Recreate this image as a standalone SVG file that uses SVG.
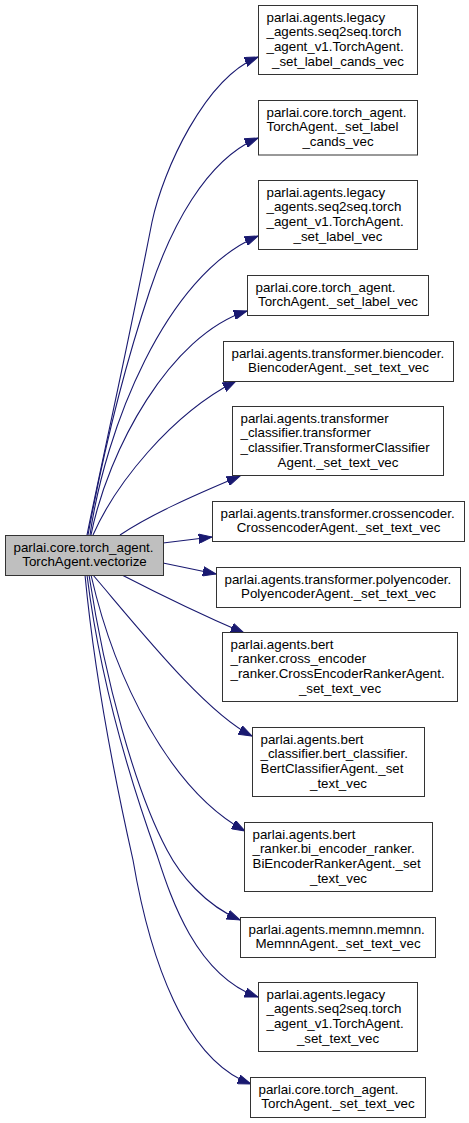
<svg xmlns="http://www.w3.org/2000/svg" width="469" height="1123" viewBox="0 0 469 1123">
<style>
.n rect{fill:#fff;stroke:#333;stroke-width:1}
.n.root rect{fill:#bfbfbf}
.n text{font-family:"Liberation Sans",Arial,Helvetica,sans-serif;font-size:13.33px;fill:#000}
.c{text-anchor:middle}
.e path{fill:none;stroke:#191970;stroke-width:1.1;marker-end:url(#arr)}
</style>
<defs>
<marker id="arr" markerWidth="14" markerHeight="10" refX="13.3" refY="5" orient="auto" markerUnits="userSpaceOnUse">
<path d="M0,0.3 L13.3,5 L0,9.7 z" fill="#191970" stroke="#191970" stroke-width="1"/>
</marker>
</defs>
<rect width="469" height="1123" fill="#fff"/>
<g id="edges" class="e">
<path d="M87,535 C100,470 125,360 152,222 C163,170 205,78 258,57"/>
<path d="M88,535 C100,470 120,380 150,290 C170,230 205,160 258,138"/>
<path d="M90,535 C105,430 165,275 258,236"/>
<path d="M91,535 C108,450 170,335 247,311"/>
<path d="M93,535 C115,485 170,415 236,381"/>
<path d="M120,535 C150,515 190,497 240,476"/>
<path d="M163,543 L212,537"/>
<path d="M163,563 L216,574"/>
<path d="M122,575 C155,592 195,612 244,633"/>
<path d="M93,575 C140,630 205,712 252,736"/>
<path d="M91,575 C115,680 170,790 245,831"/>
<path d="M89,575 C105,680 135,790 167,850 C180,875 205,905 240,920"/>
<path d="M87,575 C100,680 130,780 157,855 C170,895 195,975 258,997"/>
<path d="M85,575 C95,680 115,780 133,860 C150,960 185,1060 251,1084"/>
</g>
<g id="root" class="n root"><rect x="5.5" y="535.5" width="158" height="40"/><text x="13.5" y="551.5">parlai.core.torch_agent.</text><text class="c" x="84.5" y="566.2">TorchAgent.vectorize</text></g>
<g id="n1" class="n"><rect x="258.5" y="5.5" width="159" height="69"/><text x="266.5" y="21.5">parlai.agents.legacy</text><text x="266.5" y="36.2">_agents.seq2seq.torch</text><text x="266.5" y="50.8">_agent_v1.TorchAgent.</text><text class="c" x="338" y="65.5">_set_label_cands_vec</text></g>
<g id="n2" class="n"><rect x="258.5" y="100.5" width="159" height="54.5"/><text x="266.5" y="116.5">parlai.core.torch_agent.</text><text x="266.5" y="131.2">TorchAgent._set_label</text><text class="c" x="338" y="145.8">_cands_vec</text></g>
<g id="n3" class="n"><rect x="258.5" y="180.5" width="159" height="69"/><text x="266.5" y="196.5">parlai.agents.legacy</text><text x="266.5" y="211.2">_agents.seq2seq.torch</text><text x="266.5" y="225.8">_agent_v1.TorchAgent.</text><text class="c" x="338" y="240.5">_set_label_vec</text></g>
<g id="n4" class="n"><rect x="247.5" y="275.5" width="181" height="40"/><text x="255.5" y="291.5">parlai.core.torch_agent.</text><text class="c" x="338" y="306.2">TorchAgent._set_label_vec</text></g>
<g id="n5" class="n"><rect x="223.5" y="341.5" width="230" height="40"/><text x="231.5" y="357.5">parlai.agents.transformer.biencoder.</text><text class="c" x="338.5" y="372.2">BiencoderAgent._set_text_vec</text></g>
<g id="n6" class="n"><rect x="232.5" y="406.5" width="211" height="69"/><text x="240.5" y="422.5">parlai.agents.transformer</text><text x="240.5" y="437.2">_classifier.transformer</text><text x="240.5" y="451.8">_classifier.TransformerClassifier</text><text class="c" x="338" y="466.5">Agent._set_text_vec</text></g>
<g id="n7" class="n"><rect x="212.5" y="501.5" width="252" height="40"/><text x="220.5" y="517.5">parlai.agents.transformer.crossencoder.</text><text class="c" x="338.5" y="532.2">CrossencoderAgent._set_text_vec</text></g>
<g id="n8" class="n"><rect x="216.5" y="567.5" width="244" height="40"/><text x="224.5" y="583.5">parlai.agents.transformer.polyencoder.</text><text class="c" x="338.5" y="598.2">PolyencoderAgent._set_text_vec</text></g>
<g id="n9" class="n"><rect x="222.5" y="632.5" width="235" height="69"/><text x="230.5" y="648.5">parlai.agents.bert</text><text x="230.5" y="663.2">_ranker.cross_encoder</text><text x="230.5" y="677.8">_ranker.CrossEncoderRankerAgent.</text><text class="c" x="340" y="692.5">_set_text_vec</text></g>
<g id="n10" class="n"><rect x="252.5" y="727.5" width="172" height="69"/><text x="260.5" y="743.5">parlai.agents.bert</text><text x="260.5" y="758.2">_classifier.bert_classifier.</text><text x="260.5" y="772.8">BertClassifierAgent._set</text><text class="c" x="338.5" y="787.5">_text_vec</text></g>
<g id="n11" class="n"><rect x="244.5" y="822.5" width="188" height="69"/><text x="252.5" y="838.5">parlai.agents.bert</text><text x="252.5" y="853.2">_ranker.bi_encoder_ranker.</text><text x="252.5" y="867.8">BiEncoderRankerAgent._set</text><text class="c" x="338.5" y="882.5">_text_vec</text></g>
<g id="n12" class="n"><rect x="240.5" y="917.5" width="195" height="40"/><text x="248.5" y="933.5">parlai.agents.memnn.memnn.</text><text class="c" x="338" y="948.2">MemnnAgent._set_text_vec</text></g>
<g id="n13" class="n"><rect x="258.5" y="982.5" width="159" height="69"/><text x="266.5" y="998.5">parlai.agents.legacy</text><text x="266.5" y="1013.2">_agents.seq2seq.torch</text><text x="266.5" y="1027.8">_agent_v1.TorchAgent.</text><text class="c" x="338" y="1042.5">_set_text_vec</text></g>
<g id="n14" class="n"><rect x="250.5" y="1077.5" width="175" height="40"/><text x="258.5" y="1093.5">parlai.core.torch_agent.</text><text class="c" x="338" y="1108.2">TorchAgent._set_text_vec</text></g>
</svg>
